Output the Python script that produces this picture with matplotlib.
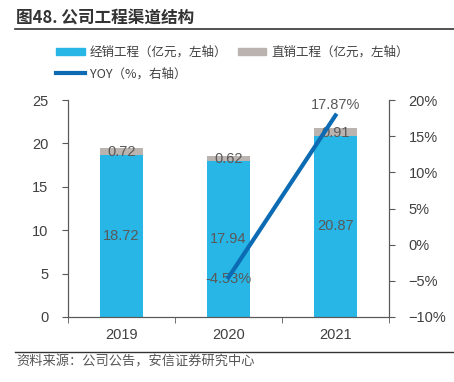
import matplotlib
matplotlib.use("Agg")
import matplotlib.pyplot as plt
from matplotlib.lines import Line2D
from matplotlib.patches import Patch
import numpy as np

plt.rcParams['font.family'] = ['Liberation Sans', 'Noto Sans CJK SC', 'DejaVu Sans']

years = ['2019', '2020', '2021']
dist = [18.72, 17.94, 20.87]
direct = [0.72, 0.62, 0.91]
yoy_years = ['2020', '2021']
yoy = [-4.53, 17.87]

C_BLUE = '#27B6E6'
C_GREY = '#BAB3B0'
C_LINE = '#0C6BB3'
C_TXT = '#404040'

fig = plt.figure(figsize=(4.54, 3.82), dpi=100)
W, H = 454, 382
ax = fig.add_axes([68 / W, 1 - 317 / H, (389 - 68) / W, (317 - 100) / H])
ax2 = ax.twinx()

x = np.arange(len(years))
bw = 0.41
ax.bar(x, dist, bw, color=C_BLUE, zorder=2)
ax.bar(x, direct, bw, bottom=dist, color=C_GREY, zorder=2)
for i in range(len(years)):
    ax.text(x[i], dist[i] / 2, f'{dist[i]:.2f}', ha='center', va='center', color='#595959', fontsize=10.5, zorder=5)
    ax.text(x[i], dist[i] + direct[i] / 2 - 0.1, f'{direct[i]:.2f}', ha='center', va='center', color='#595959', fontsize=10.5, zorder=5)

xi = [years.index(y) for y in yoy_years]
ax2.plot(xi, yoy, color=C_LINE, lw=3, zorder=4)
ax2.text(xi[0], yoy[0] - 0.2, f'{yoy[0]:.2f}%', ha='center', va='center', color='#595959', fontsize=10.5, zorder=3)
ax2.text(xi[1], yoy[1] + 1.5, f'{yoy[1]:.2f}%', ha='center', va='center', color='#595959', fontsize=10.5, zorder=3)

ax.set_xlim(-0.5, 2.5)
ax.set_ylim(0, 25)
ax.set_yticks([0, 5, 10, 15, 20, 25])
ax2.set_ylim(-10, 20)
ax2.set_yticks([-10, -5, 0, 5, 10, 15, 20])
ax2.set_yticklabels([f'{v}%'.replace('-', '−') for v in [-10, -5, 0, 5, 10, 15, 20]])

ax.set_xticks(x)
ax.set_xticklabels(years)
ax.set_xticks([-0.5, 0.5, 1.5, 2.5], minor=True)
ax.tick_params(axis='x', which='major', length=0, pad=8, labelsize=10.5, labelcolor=C_TXT)
ax.tick_params(axis='x', which='minor', length=4, color='#595959')
ax.tick_params(axis='y', length=4, color='#595959', labelsize=10.5, labelcolor=C_TXT, pad=10)
ax2.tick_params(axis='y', length=4, color='#595959', labelsize=10.5, labelcolor=C_TXT, pad=10)
for a in (ax, ax2):
    a.spines['top'].set_visible(False)
    for s in ('left', 'right', 'bottom'):
        a.spines[s].set_color('#595959')
ax.set_zorder(1)
ax2.set_zorder(2)
ax2.patch.set_visible(False)

# Title
fig.text(16 / W, 1 - 17 / H, '图48. 公司工程渠道结构', fontsize=12, fontweight='bold', color='#333333',
         va='center', ha='left', family=['Noto Sans CJK SC', 'DejaVu Sans'])
fig.add_artist(Line2D([15 / W, 1], [1 - 29 / H, 1 - 29 / H], color='#333333', lw=1.2))
fig.add_artist(Line2D([15 / W, 1], [1 - 352 / H, 1 - 352 / H], color='#333333', lw=1.0))
fig.text(16 / W, 1 - 362 / H, '资料来源：公司公告，安信证券研究中心', fontsize=9.5, color='#555555',
         va='center', ha='left', style='italic', family=['Noto Sans CJK SC', 'DejaVu Sans'])

# Legend
handles = [Patch(color=C_BLUE), Patch(color=C_GREY)]
leg1 = fig.legend(handles, ['经销工程（亿元，左轴）', '直销工程（亿元，左轴）'], loc='center left',
                  bbox_to_anchor=(45 / W, 1 - 52 / H), ncol=2, frameon=False,
                  handlelength=2.3, handleheight=0.5, columnspacing=0.8, handletextpad=0.4,
                  prop={'family': ['Noto Sans CJK SC', 'DejaVu Sans'], 'size': 9})
for t in leg1.get_texts():
    t.set_color(C_TXT)
leg2 = fig.legend([Line2D([], [], color=C_LINE, lw=3)], ['YOY（%，右轴）'], loc='center left',
                  bbox_to_anchor=(45 / W, 1 - 74 / H), frameon=False,
                  handlelength=2.3, handletextpad=0.4,
                  prop={'family': ['Noto Sans CJK SC', 'DejaVu Sans'], 'size': 9})
for t in leg2.get_texts():
    t.set_color(C_TXT)

fig.savefig('out.png', dpi=100)
